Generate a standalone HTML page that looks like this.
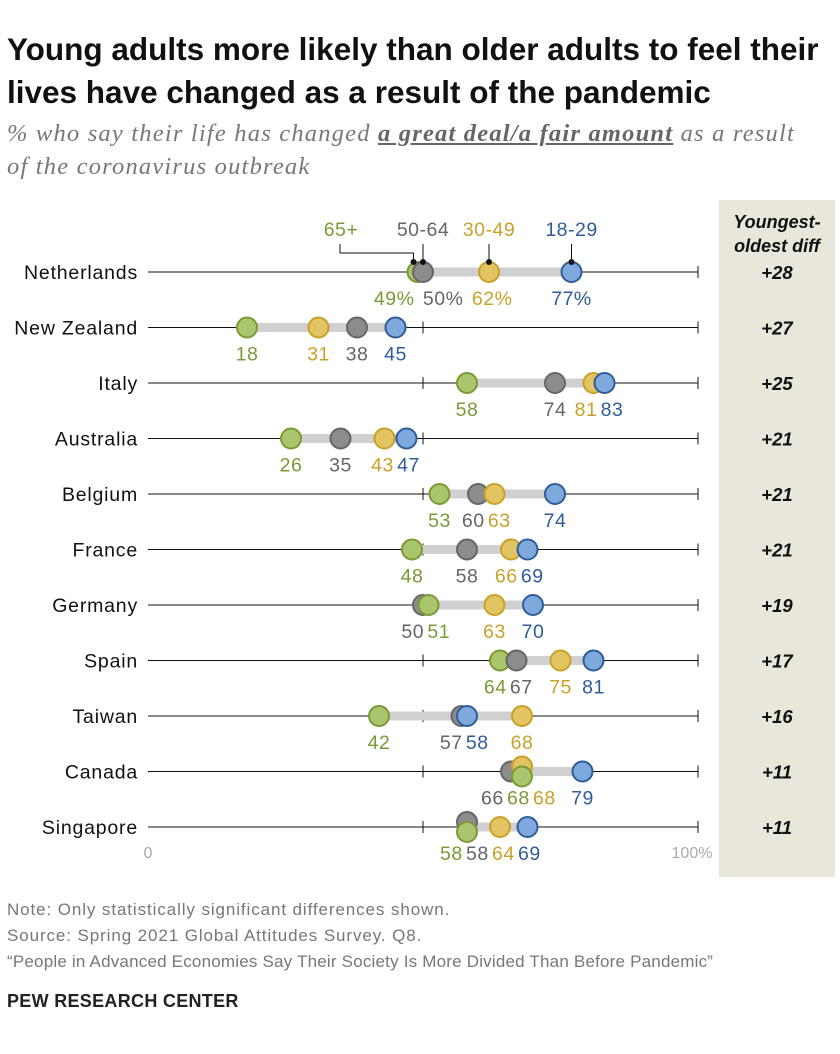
<!DOCTYPE html>
<html><head><meta charset="utf-8"><style>
body{margin:0;background:#fff;width:840px;height:1054px;overflow:hidden;font-family:"Liberation Sans",sans-serif}
.t{position:absolute;left:7px;top:28px;font-size:31.5px;font-weight:bold;line-height:43px;color:#111;white-space:nowrap}
.s{position:absolute;left:7px;top:117px;font-family:"Liberation Serif",serif;font-style:italic;font-size:24.5px;letter-spacing:1.2px;line-height:33px;color:#777;white-space:nowrap}
.f{position:absolute;left:7px;font-size:17px;letter-spacing:0.9px;color:#777;white-space:nowrap}
</style></head><body>
<div class="t">Young adults more likely than older adults to feel their<br>lives have changed as a result of the pandemic</div>
<div class="s">% who say their life has changed <b style="color:#666;text-decoration:underline">a great deal/a fair amount</b> as a result<br>of the coronavirus outbreak</div>
<svg id="c" width="840" height="1054" style="position:absolute;left:0;top:0"></svg>
<div class="f" style="top:900px">Note: Only statistically significant differences shown.</div>
<div class="f" style="top:926px">Source: Spring 2021 Global Attitudes Survey. Q8.</div>
<div class="f" style="top:952px;letter-spacing:0.2px">“People in Advanced Economies Say Their Society Is More Divided Than Before Pandemic”</div>
<div class="f" style="top:991px;font-weight:bold;color:#222;font-size:18px;letter-spacing:0.3px">PEW RESEARCH CENTER</div>
<script>
const countries=["Netherlands","New Zealand","Italy","Australia","Belgium","France","Germany","Spain","Taiwan","Canada","Singapore"];
const age1829=[77,45,83,47,74,69,70,81,58,79,69];
const age3049=[62,31,81,43,63,66,63,75,68,68,64];
const age5064=[50,38,74,35,60,58,50,67,57,66,58];
const age65=[49,18,58,26,53,48,51,64,42,68,58];
const diffs=["+28","+27","+25","+21","+21","+21","+19","+17","+16","+11","+11"];
const ticks=[0,50,100];
const NS="http://www.w3.org/2000/svg",svg=document.getElementById("c");
function el(t,a,txt){const e=document.createElementNS(NS,t);for(const k in a)e.setAttribute(k,a[k]);if(txt!==undefined)e.textContent=txt;svg.appendChild(e);return e;}
const x=v=>148+v*5.5, y=i=>272+i*55.5;
const series=[
 {v:age65,f:"#aac66c",s:"#7b9a36",lc:"#7b9a36",n:"65+"},
 {v:age5064,f:"#8c8c8c",s:"#666",lc:"#666",n:"50-64"},
 {v:age3049,f:"#e2c462",s:"#c9a12a",lc:"#c9a12a",n:"30-49"},
 {v:age1829,f:"#7ea9dd",s:"#2f5d9a",lc:"#2f5d9a",n:"18-29"}];
let r=el("rect",{x:719,y:200,width:116,height:677,fill:"#e9e7da"});


let h=el("text",{x:777,y:228,"text-anchor":"middle","font-size":18,"font-weight":"bold","font-style":"italic",fill:"#111"},"Youngest-");


el("text",{x:777,y:252,"text-anchor":"middle","font-size":18,"font-weight":"bold","font-style":"italic",fill:"#111"},"oldest diff");
const FS=19.5;
countries.forEach((c,i)=>{
 const cy=y(i);
 const ax=el("line",{x1:x(0),x2:x(100),y1:cy,y2:cy,stroke:"#111","stroke-width":1});
 
 
 ticks.forEach(t=>{if(t>0)el("line",{x1:x(t),x2:x(t),y1:cy-6,y2:cy+6,stroke:"#111"});});
 const lab=el("text",{x:138,y:cy+7,"text-anchor":"end","font-size":19.5,"letter-spacing":"0.8",fill:"#111"},c);
 
 
 const d=el("text",{x:777,y:cy+7,"text-anchor":"middle","font-size":18.5,"font-weight":"bold","font-style":"italic",fill:"#111"},diffs[i]);
 
 
 const vals=series.map(s=>s.v[i]);
 const mn=Math.min(...vals),mx=Math.max(...vals);
 const b=el("line",{x1:x(mn),x2:x(mx),y1:cy,y2:cy,stroke:"#d0d0d0","stroke-width":9});
 
 
 const ord=series.map((s,k)=>k).sort((a,b2)=>vals[a]-vals[b2]||b2-a);
 const off={};
 ord.forEach((k,j)=>{const p=ord[j-1];if(p!==undefined&&vals[p]===vals[k]){off[p]=-5;off[k]=5;}});
 ord.forEach(k=>{const s=series[k];
  const ci=el("circle",{cx:x(vals[k]),cy:cy+(off[k]||0),r:10,fill:s.f,stroke:s.s,"stroke-width":2});
  
  });
 const suf=i===0?"%":"";
 const lo=series.map((s,k)=>k).sort((a,b2)=>vals[a]-vals[b2]||a-b2);
 const w=lo.map(k=>(String(vals[k])+suf).length*11+(suf?12:0));
 let lx=lo.map(k=>x(vals[k]));
 for(let it=0;it<40;it++)for(let j=1;j<lx.length;j++){const need=(w[j]+w[j-1])/2+4;if(lx[j]-lx[j-1]<need){const m=(need-(lx[j]-lx[j-1]))/2;lx[j]+=m;lx[j-1]-=m;}}
 lo.forEach((k,j)=>{const s=series[k];
  const t=el("text",{x:lx[j],y:cy+33,"text-anchor":"middle","font-size":FS,"letter-spacing":"0.5",fill:s.lc},vals[k]+suf);
  
  });
 if(i===0){
  series.forEach((s,k)=>{const dx=x(vals[k])-(k===0?4:0);
   const lg=el("text",{x:k===0?341:dx,y:236,"text-anchor":"middle","font-size":FS,"letter-spacing":"0.5",fill:s.lc},s.n);
   
   
   if(k===0)el("polyline",{points:`340,244 340,253 ${dx},253 ${dx},262`,fill:"none",stroke:"#111"});
   else el("line",{x1:dx,x2:dx,y1:244,y2:262,stroke:"#111"});
   el("circle",{cx:dx,cy:262,r:3,fill:"#111"});});
 }
});
const z=el("text",{x:148,y:858,"text-anchor":"middle","font-size":16,fill:"#aaa"},"0");


const hh=el("text",{x:692,y:858,"text-anchor":"middle","font-size":16,fill:"#aaa"},"100%");


</script>
</body></html>
